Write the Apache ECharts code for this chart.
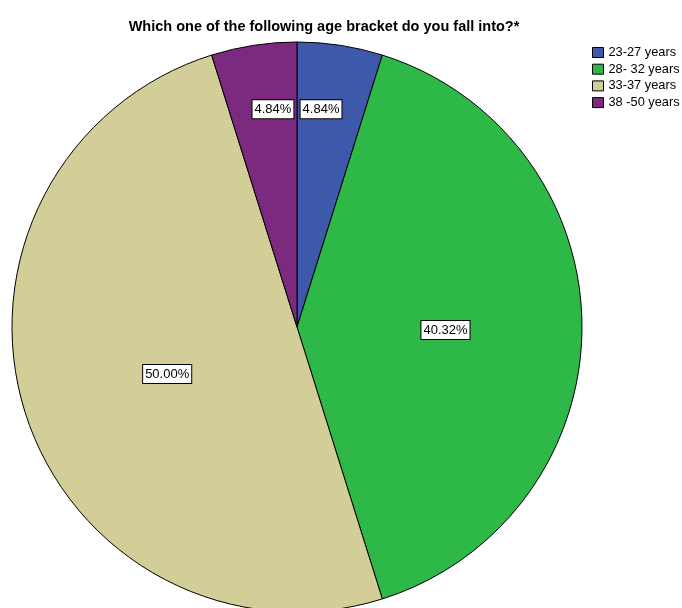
<!DOCTYPE html>
<html>
<head>
<meta charset="utf-8">
<script src="https://cdn.jsdelivr.net/npm/echarts@6/dist/echarts.min.js"></script>
<style>html,body{margin:0;padding:0;background:#fff;}#c{width:682px;height:608px;}</style>
</head>
<body>
<div id="c"></div>
<script>
const categories = ['23-27 years', '28- 32 years', '33-37 years', '38 -50 years'];
const values = [4.84, 40.32, 50.00, 4.84];
const colors = ['#3e58ac', '#2eb848', '#d3ce97', '#7b2a7f'];
const titleText = 'Which one of the following age bracket do you fall into?*';

const chart = echarts.init(document.getElementById('c'), null, {renderer: 'canvas'});
chart.setOption({
  animation: false,
  backgroundColor: '#fff',
  title: {
    text: titleText,
    left: 319, top: 14, textAlign: 'center',
    textStyle: {fontFamily: 'Liberation Sans, Arial', fontWeight: 'bold', fontSize: 14.5, color: '#000'}
  },
  legend: {
    orient: 'vertical', left: 587, top: 41,
    itemWidth: 11, itemHeight: 10, itemGap: 3.7, icon: 'rect',
    itemStyle: {borderColor: '#000', borderWidth: 1},
    textStyle: {fontFamily: 'Liberation Sans, Arial', fontSize: 12.8, lineHeight: 13, color: '#000'},
    data: categories
  },
  series: [{
    type: 'pie',
    center: [297, 327], radius: 285,
    startAngle: 90, clockwise: true,
    color: colors,
    itemStyle: {borderColor: '#000', borderWidth: 1},
    emphasis: {disabled: true},
    label: {
      position: 'inner',
      formatter: p => p.value.toFixed(2) + '%',
      fontFamily: 'Liberation Sans, Arial', fontSize: 13, color: '#000',
      backgroundColor: '#fff', borderColor: '#000', borderWidth: 1,
      padding: [3, 2, 2, 2]
    },
    labelLayout: function (p) {
      if (p.dataIndex === 0) return {dx: 2, dy: -74};
      if (p.dataIndex === 3) return {dx: -2, dy: -74};
      if (p.dataIndex === 1) return {dx: 3, dy: 3};
      return {dx: 9, dy: 3.5};
    },
    data: categories.map((c, i) => ({name: c, value: values[i]}))
  }]
});
</script>
</body>
</html>
